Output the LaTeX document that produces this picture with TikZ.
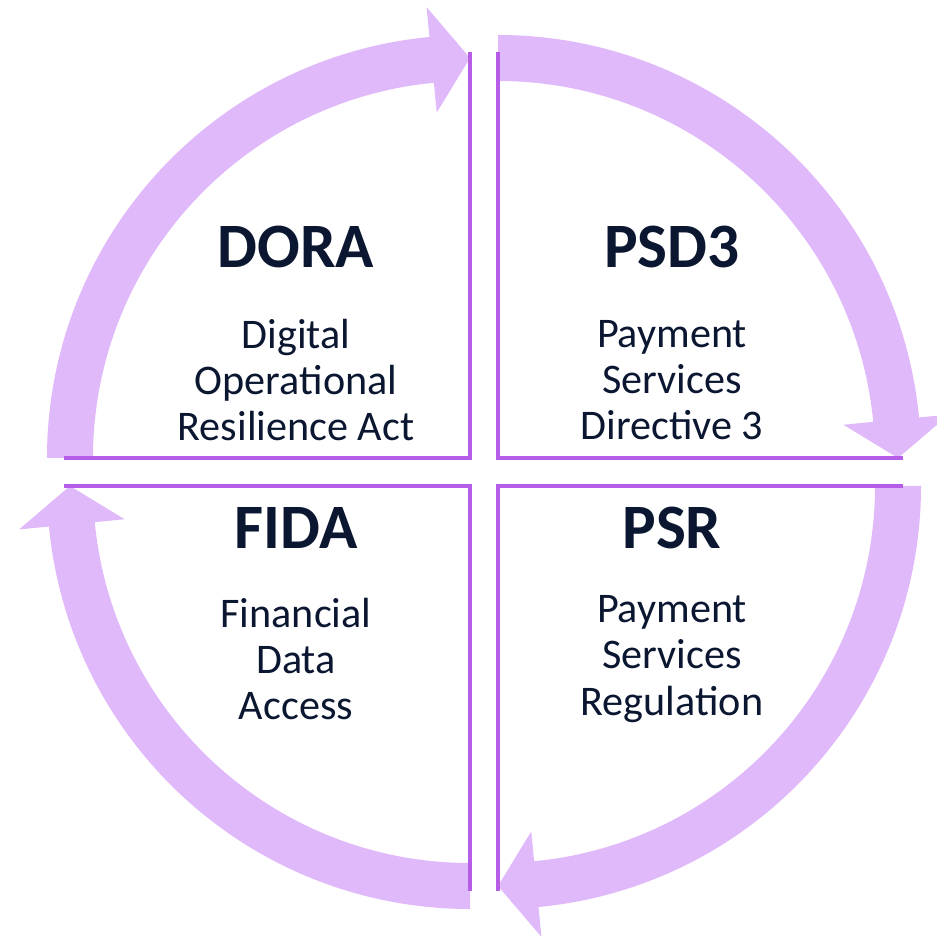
\documentclass[tikz,border=0pt]{standalone}
\usepackage{fontspec}
\setmainfont{Carlito}
\usepackage{tikz}
\usetikzlibrary{positioning, calc}
\usepackage{xcolor}

\definecolor{bandpurple}{HTML}{E0B9FB}
\definecolor{linepurple}{HTML}{B65CE6}
\definecolor{navytext}{HTML}{0B1631}

\newcommand{\quadarrow}[5]{%
  \fill[band, shift={(#1,#2)}] (#3:423) arc[start angle=#3, end angle=#4, radius=423]
    -- (#4:453) -- (#5:400) -- (#4:347) -- (#4:377)
    arc[start angle=#4, end angle=#3, radius=377] -- cycle;}

\begin{document}
\begin{tikzpicture}[x=0.02cm, y=0.02cm,
    band/.style={fill=bandpurple},
    edge/.style={draw=linepurple, line width=2pt},
    title/.style={text=navytext, font=\fontsize{36}{43}\selectfont\bfseries},
    sub/.style={text=navytext, align=center, font=\fontsize{24}{26.3}\selectfont}]
      \useasboundingbox (-484, -464) rectangle (452, 472);

      \quadarrow{-14}{14}{180}{95.5}{90}
      \quadarrow{14}{14}{90}{5.5}{0}
      \quadarrow{14}{-14}{0}{-84.5}{-90}
      \quadarrow{-14}{-14}{270}{185.5}{180}

      \draw[edge] (-420, 14) -- (-14, 14) -- (-14, 420);
      \draw[edge] (419, 14) -- (14, 14) -- (14, 420);
      \draw[edge] (419, -14) -- (14, -14) -- (14, -419);
      \draw[edge] (-420, -14) -- (-14, -14) -- (-14, -419);

      \node[title] (dora) at (-188, 225) {DORA};
      \node[title] (psd3) at (188, 225) {PSD3};
      \node[title] (fida) at (-188, -56) {FIDA};
      \node[title] (psr) at (188, -56) {PSR};

      \node[sub] (doratext) at (-188, 92) {Digital\\Operational\\Resilience Act};
      \node[sub] (psd3text) at (188, 92) {Payment\\Services\\Directive 3};
      \node[sub] (fidatext) at (-188, -187) {Financial\\Data\\Access};
      \node[sub] (psrtext) at (188, -187) {Payment\\Services\\Regulation};

    \end{tikzpicture}
\end{document}
